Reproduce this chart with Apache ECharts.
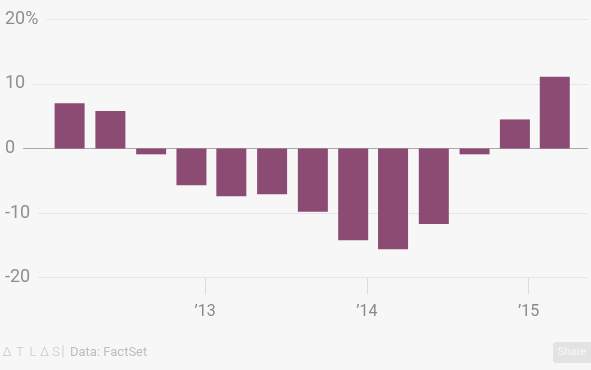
<!DOCTYPE html>
<html>
<head>
<meta charset="utf-8">
<script src="https://cdn.jsdelivr.net/npm/echarts@6/dist/echarts.min.js"></script>
<style>
html,body{margin:0;padding:0;background:#f7f7f7;}
#chart{width:591px;height:370px;}
</style>
</head>
<body>
<div id="chart"></div>
<script>
// Quarterly dates (bar positions) and values (% change)
var dates = ['2012-03-01','2012-06-01','2012-09-01','2012-12-01',
             '2013-03-01','2013-06-01','2013-09-01','2013-12-01',
             '2014-03-01','2014-06-01','2014-09-01','2014-12-01',
             '2015-03-01'];
var values = [7.0, 5.8, -0.9, -5.7, -7.4, -7.1, -9.8, -14.2, -15.6, -11.7, -0.9, 4.5, 11.1];
var yearTicks = [2013, 2014, 2015];
var yTickLabels = {'20': '20%', '10': '10', '0': '0', '-10': '-10', '-20': '-20'};

function ts(s) { var p = s.split('-'); return Date.UTC(+p[0], +p[1] - 1, +p[2]); }

var chart = echarts.init(document.getElementById('chart'), null, {renderer: 'canvas'});
var tickTimes = yearTicks.map(function (y) { return Date.UTC(y, 0, 1); });
var font = 'Roboto, "Noto Sans", sans-serif';

var logoLetters = ['Δ', 'T', 'L', 'Δ', 'S'];
var logoX = [7, 20, 33, 44.5, 56];
var graphics = logoLetters.map(function (ch, i) {
  return {type: 'text', x: logoX[i], y: 352.5,
    style: {text: ch, fontSize: 13, fontWeight: 300, fill: '#c8c8c8', align: 'center', verticalAlign: 'middle', fontFamily: font}};
});
graphics.push(
  {type: 'text', x: 63, y: 352.5, style: {text: '|', fontSize: 14, fill: '#d2d2d2', align: 'center', verticalAlign: 'middle', fontFamily: font}},
  {type: 'text', x: 70, y: 352.5, style: {text: 'Data: FactSet', fontSize: 13, fill: '#bdbdbd', verticalAlign: 'middle', fontFamily: font}},
  {type: 'rect', shape: {x: 553, y: 342, width: 40, height: 21, r: 3}, style: {fill: '#e3e3e3'}},
  {type: 'text', x: 572, y: 352.5, style: {text: 'Share', fontSize: 11, fill: '#f7f7f7', align: 'center', verticalAlign: 'middle', fontFamily: font}}
);

chart.setOption({
  backgroundColor: '#f7f7f7',
  animation: false,
  grid: {left: 20, right: 3, top: 19.3, bottom: 92.3, containLabel: false},
  xAxis: {
    type: 'value',
    min: ts('2011-11-10'),
    max: ts('2015-05-15'),
    axisLine: {show: false, onZero: false},
    splitLine: {show: false},
    axisTick: {show: true, length: 17, customValues: tickTimes, lineStyle: {color: '#dcdcdc', width: 1}},
    axisLabel: {
      customValues: tickTimes,
      margin: 26,
      fontSize: 16,
      color: '#8a8a8a',
      fontFamily: font,
      formatter: function (v) { return '\u2019' + String(new Date(v).getUTCFullYear()).slice(2); }
    }
  },
  yAxis: {
    type: 'value',
    min: -20, max: 20, interval: 10,
    axisLine: {show: false},
    axisTick: {show: false},
    splitLine: {show: true, lineStyle: {color: ['#e6e6e6', '#e6e6e6', '#a9a9a9', '#e6e6e6', '#e6e6e6'], width: 1}},
    axisLabel: {
      inside: true,
      margin: -15,
      align: 'left',
      fontSize: 18,
      color: '#8f8f8f',
      fontFamily: font,
      backgroundColor: '#f7f7f7',
      padding: [2, 8, 2, 0],
      formatter: function (v) { return yTickLabels[String(v)]; }
    },
    z: 1
  },
  series: [{
    type: 'bar',
    data: dates.map(function (d, i) { return [ts(d), values[i]]; }),
    barWidth: 30,
    itemStyle: {color: '#8b4b72'},
    z: 3
  }],
  graphic: graphics
});
</script>
</body>
</html>
